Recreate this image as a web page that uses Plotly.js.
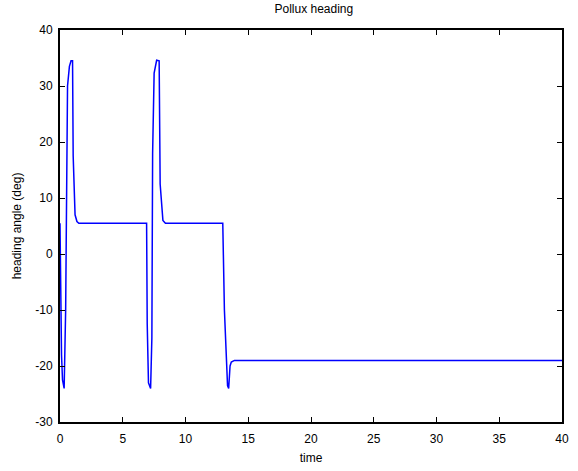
<!DOCTYPE html>
<html>
<head>
<meta charset="utf-8">
<script src="https://cdn.plot.ly/plotly-3.0.1.min.js"></script>
<style>html,body{margin:0;padding:0;background:#fff}#chart{width:578px;height:471px}</style>
</head>
<body>
<div id="chart"></div>
<script>
const timeValues = [0, 0.05, 0.12, 0.2, 0.33, 0.45, 0.6, 0.75, 0.88, 1.0, 1.05, 1.2, 1.35, 1.5,
  6.9, 6.95, 7.05, 7.22, 7.32, 7.38, 7.5, 7.7, 7.9, 7.98, 8.2, 8.4,
  12.97, 13.1, 13.25, 13.35, 13.44, 13.55, 13.65, 13.9, 40];
const headingValues = [5.5, -5, -18, -22.5, -24, -10, 30, 33.5, 34.5, 34.5, 17.5, 7, 5.8, 5.5,
  5.5, -12.5, -23, -24, -15, 18, 32.3, 34.6, 34.5, 12.5, 6, 5.5,
  5.5, -10, -20, -23.5, -24, -20, -19.3, -19, -19];
const xTicks = [0, 5, 10, 15, 20, 25, 30, 35, 40];
const yTicks = [-30, -20, -10, 0, 10, 20, 30, 40];

const axisCommon = {
  showgrid: false, zeroline: false, showline: true, linecolor: '#000', linewidth: 2,
  mirror: 'ticks', ticks: 'inside', ticklen: 5, tickcolor: '#000', tickwidth: 1,
  tickfont: {family: 'Liberation Sans, Arial, sans-serif', size: 12, color: '#000'}
};

Plotly.newPlot('chart', [{
  x: timeValues, y: headingValues, type: 'scatter', mode: 'lines',
  line: {color: '#0000ff', width: 1.5}
}], {
  width: 578, height: 471,
  margin: {l: 60, r: 16, t: 30, b: 49},
  paper_bgcolor: '#fff', plot_bgcolor: '#fff',
  showlegend: false,
  title: {text: 'Pollux heading', x: 0.543, xanchor: 'center', y: 0.99, yanchor: 'top',
    font: {family: 'Liberation Sans, Arial, sans-serif', size: 12, color: '#000'}},
  xaxis: Object.assign({}, axisCommon, {
    range: [0, 40], tickvals: xTicks, ticktext: xTicks.map(String), ticklabelstandoff: 5,
    title: {text: 'time', standoff: 8, font: {family: 'Liberation Sans, Arial, sans-serif', size: 12, color: '#000'}}
  }),
  yaxis: Object.assign({}, axisCommon, {
    range: [-30, 40], tickvals: yTicks, ticktext: yTicks.map(String), ticklabelstandoff: 3,
    title: {text: 'heading angle (deg)', standoff: 11, font: {family: 'Liberation Sans, Arial, sans-serif', size: 12, color: '#000'}}
  })
}, {displayModeBar: false, staticPlot: true});
</script>
</body>
</html>
